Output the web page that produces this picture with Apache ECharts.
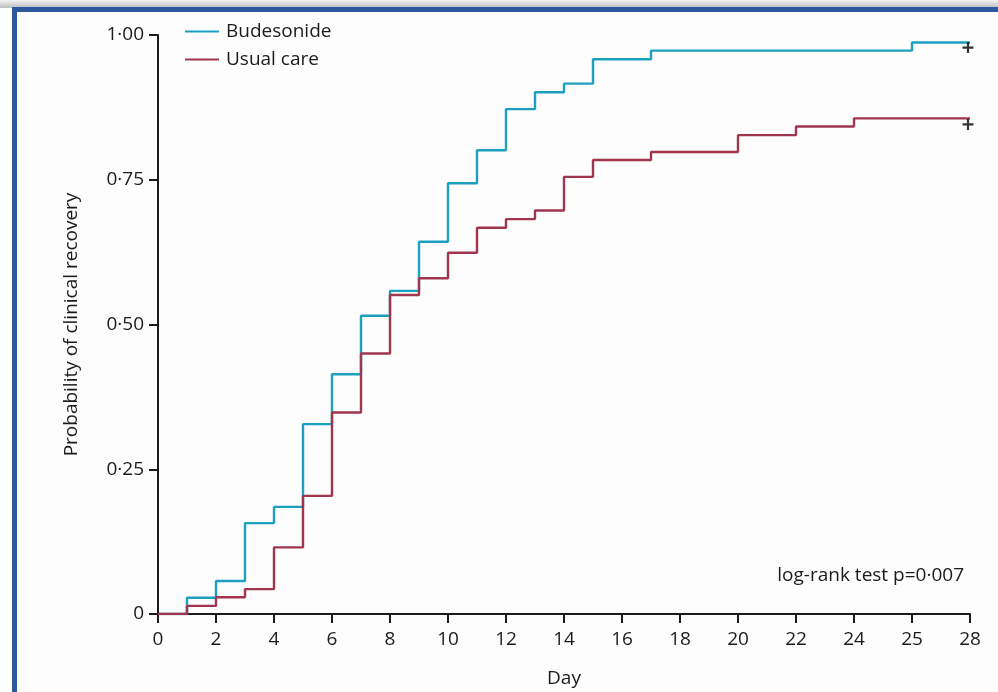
<!DOCTYPE html>
<html>
<head>
<meta charset="utf-8">
<script src="https://cdn.jsdelivr.net/npm/echarts@6/dist/echarts.min.js"></script>
<style>
html,body{margin:0;padding:0;background:#fff;}
#chart{width:998px;height:692px;}
</style>
</head>
<body>
<div id="chart"></div>
<script>
// ---- data ----
var budesonideDays   = [0, 1, 2, 3, 4, 5, 6, 7, 8, 9, 10, 11, 12, 13, 14, 15, 17, 26, 28];
var budesonideValues = [0, 0.028, 0.057, 0.157, 0.185, 0.328, 0.414, 0.515, 0.558, 0.643, 0.744, 0.801, 0.872, 0.901, 0.916, 0.958, 0.973, 0.987, 0.987];
var usualCareDays    = [0, 1, 2, 3, 4, 5, 6, 7, 8, 9, 10, 11, 12, 13, 14, 15, 17, 20, 22, 24, 28];
var usualCareValues  = [0, 0.014, 0.029, 0.043, 0.115, 0.204, 0.348, 0.450, 0.551, 0.580, 0.624, 0.667, 0.682, 0.697, 0.755, 0.784, 0.798, 0.827, 0.842, 0.856, 0.856];
var censorBudesonide = [[28, 0.987]];
var censorUsualCare  = [[28, 0.856]];
var xTickLabels = ['0','2','4','6','8','10','12','14','16','18','20','22','24','25','28'];
var yTickLabels = ['0','0·25','0·50','0·75','1·00'];
var seriesNames = ['Budesonide', 'Usual care'];
var annotation = 'log-rank test p=0·007';

function pairs(xs, ys){ return xs.map(function(x,i){ return [x, ys[i]]; }); }

var FONT = 'Open Sans';
var FS = 19;
var INK = '#1c1a1b';
var BLUE = '#1ba0c0';
var RED = '#a0364e';
var plus = 'path://M4,0H6V4H10V6H6V10H4V6H0V4H4Z';

var chart = echarts.init(document.getElementById('chart'));
chart.setOption({
  backgroundColor: '#fdfdfd',
  animation: false,
  textStyle: { fontFamily: FONT, color: INK },
  graphic: [
    { type: 'rect', shape: { x: 0, y: 0, width: 998, height: 8 }, z: 10,
      style: { fill: new echarts.graphic.LinearGradient(0,0,0,1,[{offset:0,color:'#f4f4f4'},{offset:1,color:'#bdbdbd'}]) } },
    { type: 'rect', shape: { x: 0, y: 8, width: 12, height: 684 }, z: 10, style: { fill: '#ffffff' } },
    { type: 'rect', shape: { x: 12, y: 7, width: 986, height: 5 }, z: 11, style: { fill: '#2d579e' } },
    { type: 'rect', shape: { x: 12, y: 7, width: 5, height: 685 }, z: 11, style: { fill: '#2d579e' } },
    { type: 'text', right: 34, top: 566, z: 5,
      style: { text: annotation, font: FS + 'px "Open Sans"', fill: INK } }
  ],
  legend: {
    data: seriesNames,
    orient: 'vertical',
    left: 180, top: 17,
    itemWidth: 34, itemHeight: 2, itemGap: 9,
    icon: 'rect',
    textStyle: { fontFamily: FONT, fontSize: FS, color: INK, padding: [0,0,0,2] }
  },
  grid: { left: 158, right: 28, top: 35, bottom: 78, containLabel: false, outerBoundsMode: 'none' },
  xAxis: {
    type: 'value', min: 0, max: 28, interval: 2,
    name: 'Day', nameLocation: 'middle', nameGap: 55,
    nameTextStyle: { fontFamily: FONT, fontSize: FS, color: INK },
    axisLine: { onZero: false, lineStyle: { color: INK, width: 2 } },
    axisTick: { show: true, length: 9, lineStyle: { color: INK, width: 2 } },
    axisLabel: { fontFamily: FONT, fontSize: FS, color: INK, margin: 16,
      formatter: function(v){ return xTickLabels[Math.round(v/2)]; } },
    splitLine: { show: false }
  },
  yAxis: {
    type: 'value', min: 0, max: 1, interval: 0.25,
    name: 'Probability of clinical recovery', nameLocation: 'middle', nameGap: 77, nameRotate: 90,
    nameTextStyle: { fontFamily: FONT, fontSize: FS, color: INK },
    axisLine: { show: true, lineStyle: { color: INK, width: 2 } },
    axisTick: { show: true, length: 9, lineStyle: { color: INK, width: 2 } },
    axisLabel: { fontFamily: FONT, fontSize: FS, color: INK, margin: 14,
      formatter: function(v){ return yTickLabels[Math.round(v/0.25)]; } },
    splitLine: { show: false }
  },
  series: [
    { name: seriesNames[0], type: 'line', step: 'end', data: pairs(budesonideDays, budesonideValues),
      showSymbol: false, symbol: 'none', color: BLUE, lineStyle: { color: BLUE, width: 2.4 }, z: 2 },
    { name: seriesNames[1], type: 'line', step: 'end', data: pairs(usualCareDays, usualCareValues),
      showSymbol: false, symbol: 'none', color: RED, lineStyle: { color: RED, width: 2.4 }, z: 3 },
    { name: 'censorB', type: 'scatter', data: censorBudesonide, symbol: plus, symbolSize: 11,
      symbolOffset: [-2, 5], itemStyle: { color: '#000' }, z: 4 },
    { name: 'censorU', type: 'scatter', data: censorUsualCare, symbol: plus, symbolSize: 11,
      symbolOffset: [-2, 6], itemStyle: { color: '#000' }, z: 4 }
  ]
});
</script>
</body>
</html>
